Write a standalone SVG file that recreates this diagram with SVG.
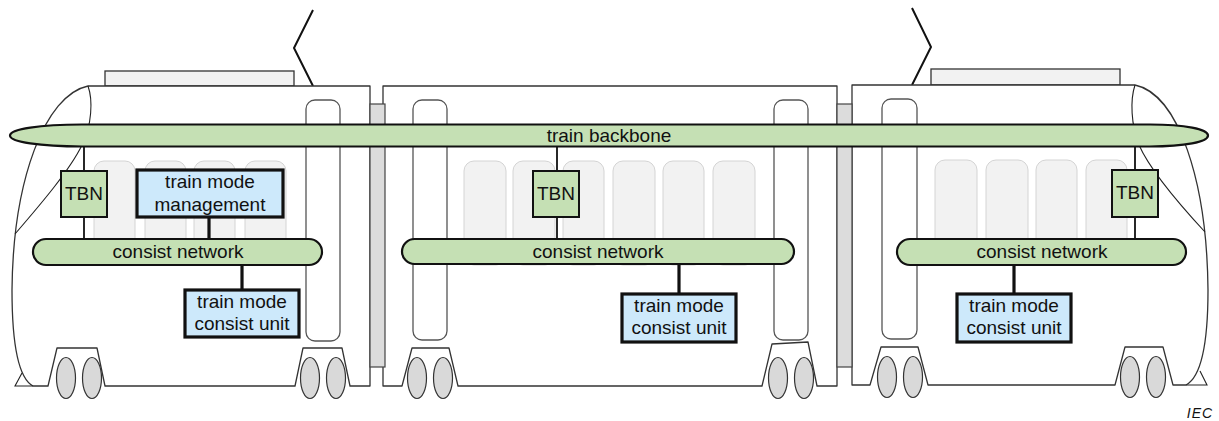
<svg xmlns="http://www.w3.org/2000/svg" width="1219" height="421" viewBox="0 0 1219 421">
<style>
.body{fill:#fff;stroke:#333;stroke-width:1.3;stroke-linejoin:round}
.thin{fill:none;stroke:#222;stroke-width:1.1}
.roof{fill:#f2f2f2;stroke:#333;stroke-width:1.3}
.panto{fill:none;stroke:#111;stroke-width:2}
.door{fill:#fff;stroke:#555;stroke-width:1.3}
.seat{fill:#f2f2f2;stroke:#d4d4d4;stroke-width:1}
.gang{fill:#dcdcdc;stroke:#444;stroke-width:1.2}
.wheel{fill:#d9d9d9;stroke:#333;stroke-width:1.2}
.net{fill:#c5e0b4;stroke:#111;stroke-width:2.2}
.tbn{fill:#c5e0b4;stroke:#111;stroke-width:2}
.tm{fill:#cde9fb;stroke:#111;stroke-width:3.2}
.c1{stroke:#111;stroke-width:1.8}
.c3{stroke:#111;stroke-width:3.2}
text{font-family:"Liberation Sans",Arial,sans-serif;font-size:19px;fill:#111;text-anchor:middle}
</style>
<g id="train">
<!-- pantographs and roof boxes -->
<polyline class="panto" points="313,86 294,48 313,10"/>
<polyline class="panto" points="912,85 931,47 912,8"/>
<rect class="roof" x="105" y="71" width="189" height="15"/>
<rect class="roof" x="931" y="69" width="189" height="16"/>
<!-- car bodies -->
<path class="body" d="M88,86 L370,86 L370,386 L350,386 L342,348 L303,348 L295,386 L105,386 L97,348 L57,348 L48,386 L33,386 C18,378 12,345 12,290 C13,180 45,95 88,86 Z"/>
<path class="thin" d="M33,386 L15,386 L22,373"/>
<path class="thin" d="M88,86 C93,100 92,125 82,145 C70,170 40,205 15,234"/>
<path class="body" d="M383,86 L837,86 L837,386 L817,386 L808,342 L772,344 L762,386 L458,386 L449,348 L412,348 L402,386 L383,386 Z"/>
<path class="body" d="M852,85 L1135,85 C1178,94 1207,180 1208,290 C1208,345 1201,377 1186,385 L1173,385 L1163,347 L1125,347 L1115,385 L928,385 L918,347 L881,347 L870,385 L852,385 Z"/>
<path class="thin" d="M1186,385 L1207,385 L1200,371"/>
<path class="thin" d="M1135,85 C1130,100 1131,125 1139,145 C1150,170 1180,205 1205,232"/>
<!-- gangways -->
<rect class="gang" x="370" y="104" width="15" height="263"/>
<rect class="gang" x="837" y="104" width="15" height="263"/>
<!-- doors -->
<rect class="door" x="306" y="100" width="34" height="241" rx="9"/>
<rect class="door" x="413" y="100" width="34" height="240" rx="9"/>
<rect class="door" x="774" y="100" width="34" height="240" rx="9"/>
<rect class="door" x="882" y="99" width="35" height="240" rx="9"/>
<!-- seats -->
<rect class="seat" x="94" y="161" width="41" height="104" rx="10"/>
<rect class="seat" x="145" y="161" width="41" height="104" rx="10"/>
<rect class="seat" x="194" y="161" width="41" height="104" rx="10"/>
<rect class="seat" x="245" y="161" width="41" height="104" rx="10"/>
<rect class="seat" x="464" y="161" width="42" height="104" rx="10"/>
<rect class="seat" x="513" y="161" width="42" height="104" rx="10"/>
<rect class="seat" x="563" y="161" width="41" height="104" rx="10"/>
<rect class="seat" x="613" y="161" width="42" height="104" rx="10"/>
<rect class="seat" x="663" y="161" width="41" height="104" rx="10"/>
<rect class="seat" x="713" y="161" width="42" height="104" rx="10"/>
<rect class="seat" x="935" y="160" width="42" height="104" rx="10"/>
<rect class="seat" x="986" y="160" width="42" height="104" rx="10"/>
<rect class="seat" x="1036" y="160" width="41" height="104" rx="10"/>
<rect class="seat" x="1086" y="160" width="41" height="104" rx="10"/>
<!-- wheels -->
<ellipse class="wheel" cx="66" cy="378" rx="9.5" ry="20.5"/>
<ellipse class="wheel" cx="92" cy="378" rx="9.5" ry="20.5"/>
<ellipse class="wheel" cx="310" cy="378" rx="9.5" ry="20.5"/>
<ellipse class="wheel" cx="336" cy="378" rx="9.5" ry="20.5"/>
<ellipse class="wheel" cx="417" cy="378" rx="9.5" ry="20.5"/>
<ellipse class="wheel" cx="443" cy="378" rx="9.5" ry="20.5"/>
<ellipse class="wheel" cx="778" cy="378" rx="9.5" ry="20.5"/>
<ellipse class="wheel" cx="804" cy="378" rx="9.5" ry="20.5"/>
<ellipse class="wheel" cx="887" cy="377" rx="9.5" ry="20.5"/>
<ellipse class="wheel" cx="913" cy="377" rx="9.5" ry="20.5"/>
<ellipse class="wheel" cx="1130" cy="377" rx="9.5" ry="20.5"/>
<ellipse class="wheel" cx="1156" cy="377" rx="9.5" ry="20.5"/>
</g>
<g id="connectors">
<line class="c1" x1="84" y1="146" x2="84" y2="171"/>
<line class="c1" x1="84" y1="217" x2="84" y2="240"/>
<line class="c3" x1="209" y1="217" x2="209" y2="240"/>
<line class="c3" x1="242" y1="264" x2="242" y2="290"/>
<line class="c1" x1="557" y1="146" x2="557" y2="171"/>
<line class="c1" x1="557" y1="217" x2="557" y2="240"/>
<line class="c3" x1="679" y1="264" x2="679" y2="294"/>
<line class="c1" x1="1135" y1="146" x2="1135" y2="170"/>
<line class="c1" x1="1135" y1="217" x2="1135" y2="240"/>
<line class="c3" x1="1014" y1="264" x2="1014" y2="294"/>
</g>
<g id="train-backbone">
<path class="net" d="M82,124.5 L1150,124.5 C1185,124.5 1208,129 1208,135.5 C1208,142 1185,146.5 1150,146.5 L82,146.5 C40,146.5 10,142 10,135.5 C10,129 40,124.5 82,124.5 Z"/>
<text x="609" y="142">train backbone</text>
</g>
<g id="consist-network-1">
<rect class="net" x="33" y="239" width="289" height="26" rx="13"/>
<text x="178" y="258">consist network</text>
</g>
<g id="consist-network-2">
<rect class="net" x="402" y="239" width="392" height="25" rx="12.5"/>
<text x="598" y="258">consist network</text>
</g>
<g id="consist-network-3">
<rect class="net" x="897" y="239" width="289" height="26" rx="13"/>
<text x="1042" y="258">consist network</text>
</g>
<g id="tbn-1">
<rect class="tbn" x="61" y="171" width="46" height="46"/>
<text x="84" y="200">TBN</text>
</g>
<g id="tbn-2">
<rect class="tbn" x="533" y="171" width="46" height="46"/>
<text x="556" y="200">TBN</text>
</g>
<g id="tbn-3">
<rect class="tbn" x="1112" y="170" width="46" height="47"/>
<text x="1135" y="199">TBN</text>
</g>
<g id="train-mode-management">
<rect class="tm" x="137" y="170" width="146" height="47"/>
<text x="210" y="188">train mode</text>
<text x="210" y="211">management</text>
</g>
<g id="tmcu-1">
<rect class="tm" x="185" y="290" width="114" height="47"/>
<text x="242" y="308">train mode</text>
<text x="242" y="330">consist unit</text>
</g>
<g id="tmcu-2">
<rect class="tm" x="622" y="294" width="114" height="48"/>
<text x="679" y="312">train mode</text>
<text x="679" y="334">consist unit</text>
</g>
<g id="tmcu-3">
<rect class="tm" x="957" y="294" width="114" height="48"/>
<text x="1014" y="312">train mode</text>
<text x="1014" y="334">consist unit</text>
</g>
<text x="1200" y="418" style="font-size:14px;font-style:italic;letter-spacing:1px">IEC</text>
</svg>
